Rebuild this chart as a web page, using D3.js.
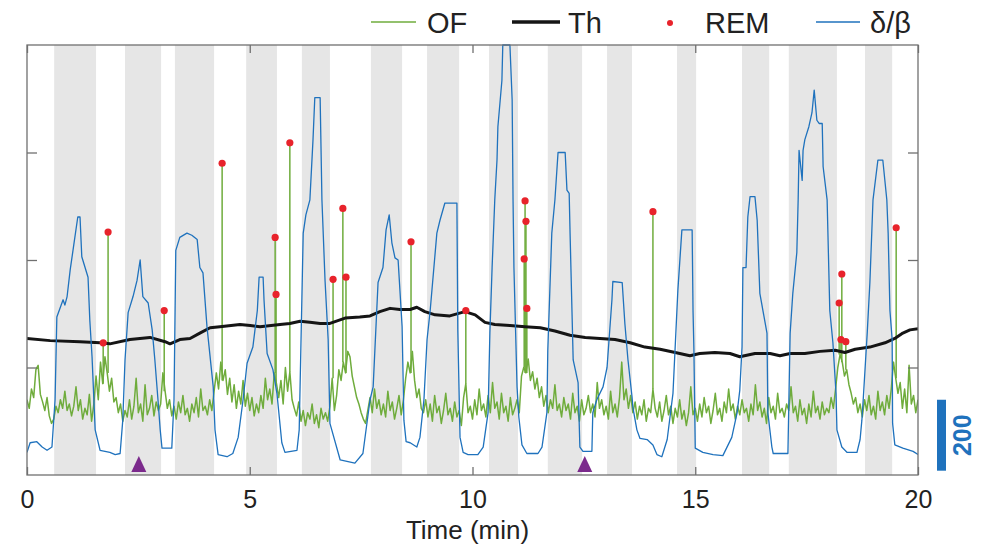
<!DOCTYPE html>
<html>
<head>
<meta charset="utf-8">
<script src="https://cdn.jsdelivr.net/npm/d3@7"></script>
<style>
    body { margin: 0; background: #fff; }
    svg { display: block; font-family: "Liberation Sans", Arial, Helvetica, sans-serif; }
</style>
</head>
<body>
<svg id="chart" width="981" height="547"></svg>
<script>
// ---- data ----
var xTicks = [0, 5, 10, 15, 20];
var yTicks = [1, 2, 3];

// shaded periods (min)
var bandStart = [0.61, 2.20, 3.32, 4.92, 6.17, 7.72, 8.98, 10.37, 11.69, 13.02, 14.59, 16.05, 17.10, 18.81];
var bandEnd   = [1.55, 3.01, 4.20, 5.61, 6.80, 8.42, 9.70, 11.02, 12.46, 13.58, 15.02, 16.66, 18.18, 19.42];

// OF trace, one sample every 0.05 min
var ofStep = 0.05;
var ofValues = [
    0.70,0.62,0.80,0.72,0.98,1.02,0.75,0.68,0.60,0.72,0.55,0.48,0.52,0.64,0.58,0.70,0.62,0.78,0.60,0.66,
    0.55,0.64,0.82,0.60,0.70,0.52,0.62,0.56,0.75,0.50,0.66,0.92,0.70,1.05,0.85,1.10,0.95,0.78,0.90,0.68,
    0.72,0.58,0.66,0.50,0.60,0.54,0.70,0.52,0.64,0.90,0.58,0.66,0.50,0.84,0.56,0.62,0.74,0.55,0.68,0.60,
    0.66,0.95,0.78,0.62,0.70,0.55,0.64,0.52,0.68,0.58,0.74,0.56,0.62,0.50,0.66,0.58,0.72,0.54,0.80,0.60,
    0.64,0.56,0.70,0.60,0.78,0.95,0.80,1.05,0.88,0.98,0.75,0.90,0.68,0.84,0.62,0.78,0.66,0.88,0.64,0.76,
    0.60,0.72,0.55,0.66,0.58,0.74,0.62,0.90,0.70,0.80,0.66,0.95,0.85,0.72,0.88,0.66,1.00,0.78,0.96,0.70,
    0.62,0.55,0.68,0.50,0.60,0.46,0.58,0.52,0.66,0.48,0.56,0.44,0.62,0.52,0.58,0.50,0.64,0.90,0.60,0.74,
    0.98,0.88,1.05,0.95,1.15,1.10,0.92,0.82,0.72,0.66,0.58,0.52,0.48,0.60,0.72,0.58,0.80,0.62,0.70,0.56,
    0.66,0.54,0.78,0.60,0.68,0.52,0.62,0.74,0.56,0.70,0.90,1.05,0.95,1.15,0.88,0.72,0.80,0.62,0.58,0.70,
    0.54,0.66,0.50,0.74,0.58,0.64,0.48,0.60,0.76,0.56,0.62,0.50,0.68,0.54,0.60,0.46,0.72,0.85,0.58,0.64,
    0.52,0.70,0.56,0.80,0.60,0.66,0.54,0.74,0.58,0.86,0.62,0.68,0.52,0.76,0.58,0.64,0.50,0.72,0.56,0.62,
    0.70,0.58,0.92,1.00,0.95,1.08,0.88,0.96,0.80,0.90,0.72,0.82,0.64,0.74,0.58,0.70,0.62,0.84,0.60,0.66,
    0.54,0.72,0.60,0.66,0.52,0.76,0.58,0.64,0.50,0.70,0.56,0.62,0.74,0.58,0.66,0.54,0.86,0.62,0.70,0.56,
    0.64,0.52,0.78,0.58,0.66,0.54,0.72,1.05,0.70,0.80,0.62,0.74,0.58,0.68,0.52,0.64,0.56,0.70,0.50,0.62,
    0.58,0.80,0.62,0.54,0.68,0.50,0.60,0.74,0.56,0.64,0.48,0.62,0.54,0.70,0.52,0.60,0.46,0.58,0.82,0.56,
    0.62,0.50,0.66,0.54,0.72,0.58,0.64,0.48,0.60,0.76,0.56,0.62,0.50,0.68,0.58,0.80,0.60,0.66,0.52,0.64,
    0.56,0.70,0.58,0.62,0.50,0.66,0.56,0.84,0.60,0.68,0.54,0.62,0.48,0.72,0.58,0.64,0.52,0.76,0.58,0.62,
    0.54,0.66,0.60,0.82,0.58,0.64,0.50,0.70,0.56,0.62,0.48,0.66,0.54,0.78,0.58,0.64,0.52,0.68,0.56,0.62,
    0.58,0.72,0.62,0.80,1.00,1.12,1.05,0.92,0.98,0.84,0.76,0.66,0.72,0.58,0.66,0.54,0.70,0.60,0.74,0.56,
    0.64,0.52,0.78,0.60,0.68,0.56,0.74,0.62,0.80,1.05,0.90,0.76,0.86,0.62,0.80,0.58,1.02,0.66,0.74,0.58,
    0.70
];

// Th (thick black)
var thTime  = [0.00, 0.52, 1.19, 1.64, 1.86, 2.31, 2.76, 3.10, 3.21, 3.43, 3.66, 3.88, 4.11, 4.33, 4.78, 5.01, 5.23, 5.68,
               5.90, 6.13, 6.35, 6.58, 6.80, 7.14, 7.47, 7.70, 7.92, 8.15, 8.37, 8.60, 8.75, 8.93, 9.16, 9.49, 9.83,
               10.06, 10.28, 10.50, 10.84, 11.18, 11.52, 11.85, 12.19, 12.53, 12.86, 13.20, 13.54, 13.87, 14.21,
               14.55, 14.88, 15.10, 15.44, 15.78, 16.00, 16.34, 16.68, 16.90, 17.13, 17.46, 17.80, 18.14, 18.36,
               18.59, 18.92, 19.26, 19.48, 19.66, 19.82, 20.00];
var thValue = [1.27, 1.25, 1.24, 1.23, 1.22, 1.26, 1.28, 1.24, 1.22, 1.26, 1.27, 1.32, 1.37, 1.38, 1.40, 1.39, 1.38, 1.40,
               1.41, 1.43, 1.42, 1.41, 1.41, 1.46, 1.47, 1.48, 1.52, 1.55, 1.54, 1.54, 1.56, 1.52, 1.49, 1.48, 1.52,
               1.49, 1.42, 1.40, 1.39, 1.38, 1.37, 1.34, 1.30, 1.28, 1.27, 1.26, 1.23, 1.19, 1.17,
               1.14, 1.11, 1.13, 1.14, 1.13, 1.10, 1.13, 1.13, 1.11, 1.13, 1.13, 1.15, 1.16, 1.14,
               1.17, 1.19, 1.23, 1.27, 1.32, 1.35, 1.36];

// delta/beta ratio (blue)
var dbTime = [
    0.00, 0.07, 0.22, 0.34, 0.45, 0.56, 0.63, 0.67, 0.81, 0.85,
    0.90, 0.97, 1.05, 1.14, 1.19, 1.23, 1.37, 1.41, 1.46, 1.53,
    1.64, 1.86, 1.98, 2.09, 2.15, 2.20, 2.27, 2.38, 2.47, 2.54,
    2.60, 2.72, 2.81, 2.87, 2.94, 2.99, 3.03, 3.25, 3.30, 3.34,
    3.43, 3.59, 3.70, 3.82, 3.88, 3.95, 4.04, 4.18, 4.22, 4.29,
    4.49, 4.62, 4.74, 4.85, 4.94, 5.07, 5.17, 5.21, 5.30, 5.32,
    5.39, 5.52, 5.61, 5.72, 5.79, 6.06, 6.11, 6.20, 6.26, 6.35,
    6.42, 6.46, 6.58, 6.62, 6.69, 6.76, 6.80, 7.03, 7.36, 7.54,
    7.70, 7.77, 7.88, 7.99, 8.06, 8.13, 8.19, 8.26, 8.33, 8.42,
    8.46, 8.51, 8.60, 8.75, 8.82, 8.91, 8.98, 9.05, 9.20, 9.27,
    9.38, 9.65, 9.67, 9.72, 9.79, 9.90, 10.12, 10.24, 10.35, 10.39,
    10.44, 10.50, 10.55, 10.57, 10.66, 10.68, 10.84, 10.89, 10.91, 10.93,
    11.00, 11.04, 11.11, 11.22, 11.47, 11.56, 11.67, 11.69, 11.78, 11.85,
    11.92, 12.08, 12.12, 12.17, 12.19, 12.26, 12.37, 12.41, 12.48, 12.68,
    12.70, 12.79, 12.93, 13.02, 13.13, 13.15, 13.36, 13.42, 13.49, 13.58,
    13.60, 13.69, 13.76, 13.92, 14.05, 14.14, 14.25, 14.37, 14.50, 14.61,
    14.70, 14.93, 14.95, 14.97, 15.00, 15.17, 15.40, 15.62, 15.82, 15.94,
    16.00, 16.05, 16.07, 16.14, 16.18, 16.23, 16.34, 16.39, 16.45, 16.61,
    16.63, 16.72, 16.75, 17.08, 17.13, 17.19, 17.28, 17.31, 17.33, 17.40,
    17.42, 17.46, 17.55, 17.62, 17.67, 17.73, 17.78, 17.85, 17.87, 17.96,
    18.02, 18.09, 18.16, 18.18, 18.29, 18.41, 18.63, 18.70, 18.74, 18.77,
    18.86, 18.92, 18.99, 19.10, 19.21, 19.30, 19.33, 19.37, 19.42, 19.43,
    19.48, 19.66, 19.89, 20.00
];
var dbValue = [
    0.21, 0.30, 0.31, 0.26, 0.23, 0.26, 0.70, 1.47, 1.63, 1.58,
    1.66, 1.91, 2.14, 2.40, 2.40, 2.03, 1.84, 1.44, 1.10, 0.42,
    0.23, 0.21, 0.19, 0.20, 0.51, 1.07, 1.51, 1.66, 1.81, 2.00,
    1.66, 1.60, 1.35, 1.07, 0.70, 0.42, 0.25, 0.25, 0.70, 2.09,
    2.21, 2.25, 2.23, 2.19, 1.93, 1.88, 1.38, 0.82, 0.42, 0.19,
    0.17, 0.20, 0.35, 0.70, 1.04, 1.19, 1.53, 1.84, 1.84, 1.63,
    1.13, 0.98, 0.76, 0.30, 0.21, 0.23, 0.42, 2.25, 2.42, 2.56,
    3.12, 3.51, 3.51, 2.56, 1.81, 1.26, 0.48, 0.14, 0.11, 0.20,
    0.70, 0.82, 1.79, 1.93, 2.28, 2.42, 2.16, 2.02, 2.00, 1.38,
    0.51, 0.31, 0.30, 0.26, 0.35, 0.70, 1.26, 1.53, 2.25, 2.37,
    2.53, 2.53, 1.35, 0.35, 0.21, 0.19, 0.19, 0.26, 0.58, 1.32,
    1.93, 2.56, 2.93, 3.24, 3.67, 4.00, 4.00, 3.49, 2.56, 1.93,
    0.82, 0.54, 0.28, 0.20, 0.20, 0.26, 0.58, 1.16, 2.25, 2.56,
    3.00, 3.00, 2.65, 2.62, 2.25, 1.07, 0.86, 0.26, 0.22, 0.22,
    0.58, 0.70, 0.82, 1.00, 1.63, 1.80, 1.79, 1.41, 1.07, 0.73,
    0.63, 0.42, 0.34, 0.33, 0.28, 0.19, 0.17, 0.33, 0.76, 1.72,
    2.28, 2.28, 1.53, 1.16, 0.25, 0.21, 0.19, 0.18, 0.35, 0.58,
    0.79, 1.19, 1.93, 1.93, 2.40, 2.59, 2.59, 2.37, 1.69, 1.32,
    0.58, 0.26, 0.20, 0.20, 1.32, 1.69, 2.07, 2.56, 3.02, 2.74,
    3.02, 3.12, 3.24, 3.37, 3.58, 3.30, 3.27, 3.27, 2.87, 2.56,
    1.53, 1.23, 0.76, 0.42, 0.26, 0.21, 0.21, 0.33, 0.51, 0.70,
    1.32, 1.79, 2.56, 2.93, 2.93, 2.56, 2.25, 1.53, 1.26, 0.48,
    0.28, 0.25, 0.22, 0.19
];

// REM events
var remTime  = [1.71, 1.82, 3.08, 4.38, 5.57, 5.59, 5.90, 6.87, 7.09, 7.16, 8.62, 9.85, 11.16, 11.18, 11.20, 11.22, 14.05, 18.23, 18.27, 18.29, 18.38, 19.51];
var remValue = [1.23, 2.26, 1.53, 2.90, 2.21, 1.68, 3.09, 1.82, 2.48, 1.84, 2.17, 1.53, 2.01, 2.55, 2.36, 1.55, 2.45, 1.60, 1.26, 1.87, 1.24, 2.30];

// stimulation markers (triangles)
var markerTime = [2.51, 12.52];

var legendLabels = ["OF", "Th", "REM", "\u03b4/\u03b2"];
var scaleBarLabel = "200";
var scaleBarSpan = [0.04, 0.70];   // in y units, bottom/top of the bar

// ---- layout ----
var plotL = 27, plotR = 918, plotT = 45, plotB = 475;
var cGreen = "#6fac3c", cBlue = "#1f72bd", cBlack = "#151515", cRed = "#e8232b";
var cBand = "#e6e6e6", cAxis = "#707070", cText = "#222";

var svg = d3.select("#chart");

var x = d3.scaleLinear().domain([0, 20]).range([plotL, plotR]);
var y = d3.scaleLinear().domain([0, 4]).range([plotB, plotT]);

svg.append("defs").append("clipPath").attr("id", "plotclip")
    .append("rect")
    .attr("x", plotL).attr("y", plotT - 1)
    .attr("width", plotR - plotL).attr("height", plotB - plotT + 1);

// shaded bands
svg.append("g")
    .selectAll("rect")
    .data(d3.zip(bandStart, bandEnd))
    .enter().append("rect")
    .attr("x", d => x(d[0]))
    .attr("y", plotT)
    .attr("width", d => x(d[1]) - x(d[0]))
    .attr("height", plotB - plotT)
    .attr("fill", cBand);

var plot = svg.append("g").attr("clip-path", "url(#plotclip)");

// OF
var ofLine = d3.line()
    .x((d, i) => x(i * ofStep))
    .y(d => y(d));

plot.append("path")
    .datum(ofValues)
    .attr("d", ofLine)
    .attr("fill", "none")
    .attr("stroke", cGreen)
    .attr("stroke-width", 1.5)
    .attr("stroke-linejoin", "round");

// REM stems (OF bursts up to the detected event)
function ofAt(t) {
    return ofValues[Math.round(t / ofStep)];
}

plot.append("g")
    .selectAll("line")
    .data(d3.zip(remTime, remValue))
    .enter().append("line")
    .attr("x1", d => x(d[0]))
    .attr("x2", d => x(d[0]))
    .attr("y1", d => y(ofAt(d[0])))
    .attr("y2", d => y(d[1]))
    .attr("stroke", cGreen)
    .attr("stroke-width", 1.5);

// Th
plot.append("path")
    .datum(d3.zip(thTime, thValue))
    .attr("d", d3.line().x(d => x(d[0])).y(d => y(d[1])))
    .attr("fill", "none")
    .attr("stroke", cBlack)
    .attr("stroke-width", 3)
    .attr("stroke-linejoin", "round");

// REM dots
plot.append("g")
    .selectAll("circle")
    .data(d3.zip(remTime, remValue))
    .enter().append("circle")
    .attr("cx", d => x(d[0]))
    .attr("cy", d => y(d[1]))
    .attr("r", 3.6)
    .attr("fill", cRed);

// delta/beta
plot.append("path")
    .datum(d3.zip(dbTime, dbValue))
    .attr("d", d3.line().x(d => x(d[0])).y(d => y(d[1])))
    .attr("fill", "none")
    .attr("stroke", cBlue)
    .attr("stroke-width", 1.3)
    .attr("stroke-linejoin", "round");

// markers
svg.append("g")
    .selectAll("path")
    .data(markerTime)
    .enter().append("path")
    .attr("d", t => "M" + (x(t) - 7.5) + "," + (plotB - 3) + "L" + (x(t) + 7.5) + "," + (plotB - 3) + "L" + x(t) + "," + (plotB - 19) + "Z")
    .attr("fill", "#7b2a8c");

// ---- axes ----
function styleAxis(g) {
    g.select(".domain").remove();
    g.selectAll("line").attr("stroke", cAxis).attr("stroke-width", 1.3);
}

svg.append("g")
    .attr("transform", "translate(0," + plotB + ")")
    .call(d3.axisBottom(x).tickValues(xTicks).tickSize(-8).tickPadding(15).tickFormat(d3.format("d")))
    .call(styleAxis)
    .call(g => g.selectAll("text").attr("fill", cText).attr("font-size", 25).attr("font-family", null));

svg.append("g")
    .attr("transform", "translate(0," + plotT + ")")
    .call(d3.axisTop(x).tickValues(xTicks).tickSize(-8).tickFormat(""))
    .call(styleAxis);

svg.append("g")
    .attr("transform", "translate(" + plotL + ",0)")
    .call(d3.axisLeft(y).tickValues(yTicks).tickSize(-10).tickFormat(""))
    .call(styleAxis);

svg.append("g")
    .attr("transform", "translate(" + plotR + ",0)")
    .call(d3.axisRight(y).tickValues(yTicks).tickSize(-10).tickFormat(""))
    .call(styleAxis);

svg.append("rect")
    .attr("x", plotL).attr("y", plotT)
    .attr("width", plotR - plotL).attr("height", plotB - plotT)
    .attr("fill", "none")
    .attr("stroke", cAxis)
    .attr("stroke-width", 1.3);

svg.append("text")
    .attr("x", (x(0) + x(20)) / 2 - 5)
    .attr("y", 539)
    .attr("text-anchor", "middle")
    .attr("fill", cText)
    .attr("font-size", 26)
    .text("Time (min)");

// ---- scale bar ----
svg.append("rect")
    .attr("x", 937).attr("width", 9)
    .attr("y", y(scaleBarSpan[1]))
    .attr("height", y(scaleBarSpan[0]) - y(scaleBarSpan[1]))
    .attr("fill", cBlue);

svg.append("text")
    .attr("transform", "translate(971," + ((y(scaleBarSpan[0]) + y(scaleBarSpan[1])) / 2) + ") rotate(-90)")
    .attr("text-anchor", "middle")
    .attr("fill", cBlue)
    .attr("font-size", 25)
    .attr("font-weight", "bold")
    .text(scaleBarLabel);

// ---- legend ----
var legend = svg.append("g").attr("font-size", 29).attr("fill", cText);
var ly = 22;

legend.append("line").attr("x1", 371).attr("x2", 416).attr("y1", ly).attr("y2", ly)
    .attr("stroke", cGreen).attr("stroke-width", 1.5);
legend.append("text").attr("x", 427).attr("y", 33).text(legendLabels[0]);

legend.append("line").attr("x1", 512).attr("x2", 560).attr("y1", ly).attr("y2", ly)
    .attr("stroke", cBlack).attr("stroke-width", 3.5);
legend.append("text").attr("x", 568).attr("y", 33).text(legendLabels[1]);

legend.append("circle").attr("cx", 670).attr("cy", ly + 1).attr("r", 3).attr("fill", cRed);
legend.append("text").attr("x", 705).attr("y", 33).text(legendLabels[2]);

legend.append("line").attr("x1", 816).attr("x2", 860).attr("y1", ly).attr("y2", ly)
    .attr("stroke", cBlue).attr("stroke-width", 1.5);
legend.append("text").attr("x", 870).attr("y", 33).text(legendLabels[3]);
</script>
</body>
</html>
